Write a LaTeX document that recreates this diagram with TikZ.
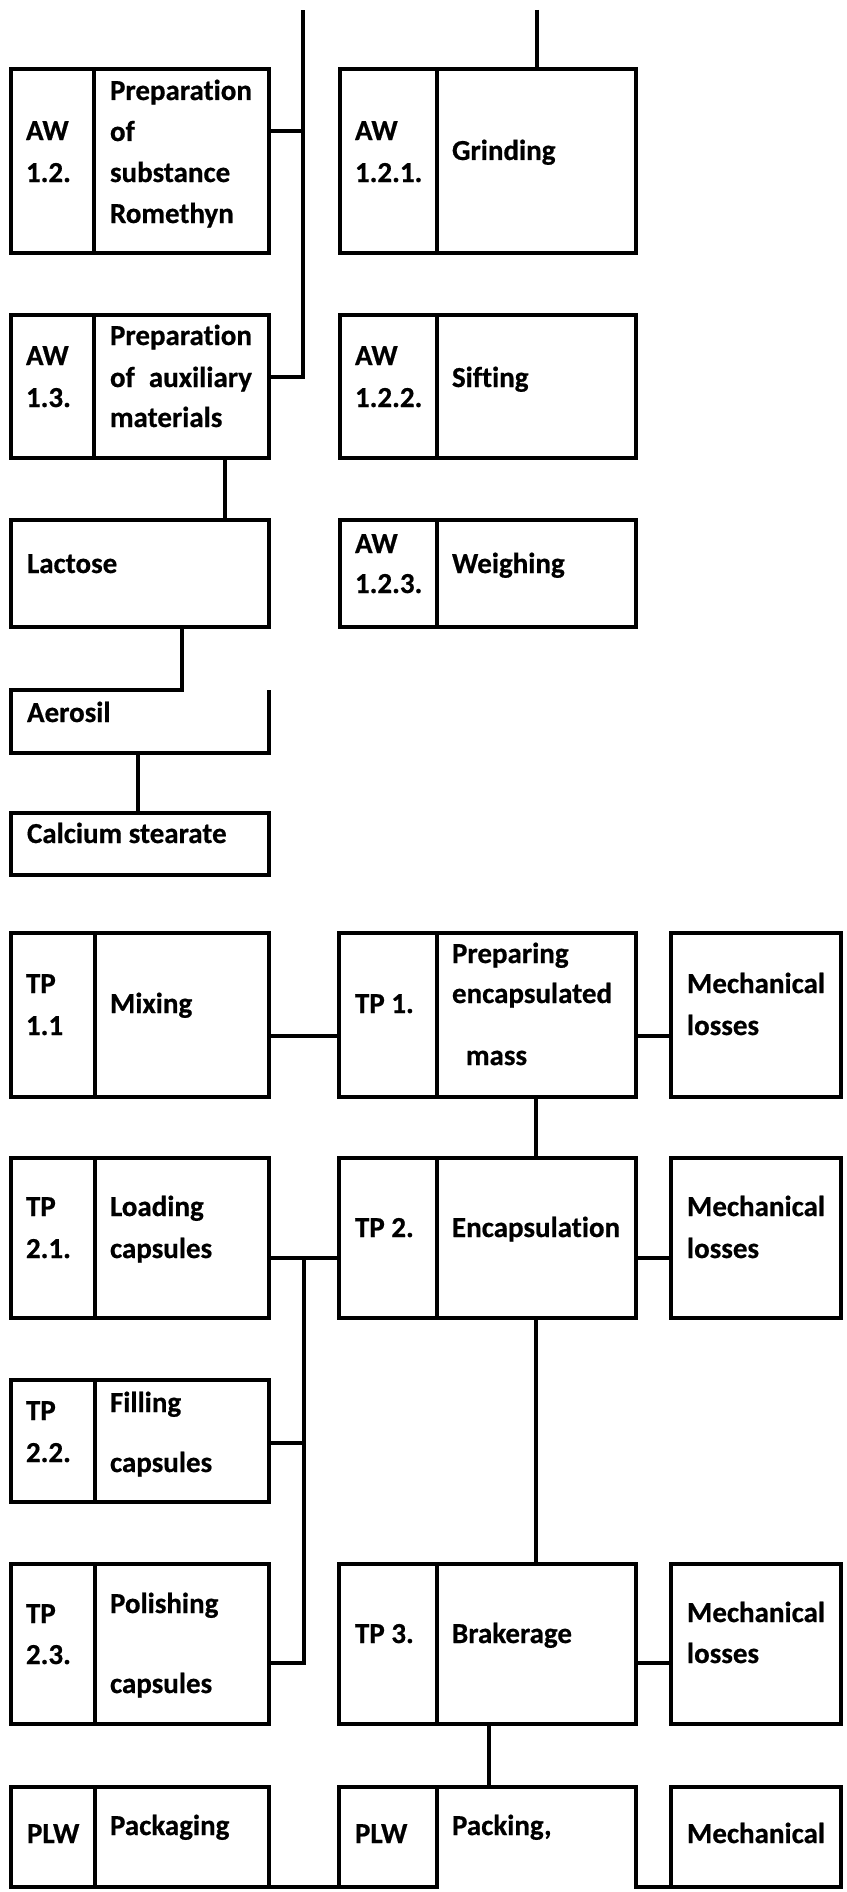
\documentclass[tikz,border=0pt]{standalone}
\usepackage{fontspec}
\setmainfont{Carlito}[Ligatures=NoCommon,BoldFeatures={FakeBold=0.6}]
\tikzset{
  cell/.style={draw, line width=3.3pt, rectangle, inner sep=0pt, outer sep=0pt, anchor=north west},
  wire/.style={line width=3.3pt},
  lbl/.style={anchor=base west, inner sep=0pt, outer sep=0pt, font=\fontsize{29}{41}\selectfont\bfseries},
  lblr/.style={lbl, anchor=base east},
}
\newcommand\cellat[6][]{\node[cell,#1,minimum width={(#5-#3)*1pt},minimum height={(#6-#4)*1pt}] (#2) at (#3,#4) {};}
\newcommand\txt[4]{\node[lbl] (#1) at (#2,#3) {#4};}
\begin{document}
\begin{tikzpicture}[x=1pt,y=-1pt]
\useasboundingbox (0,0) rectangle (846,1892);
% ---------- upper part ----------
\cellat{aw12a}{11}{69}{94}{253}
\cellat{aw12b}{94}{69}{269}{253}
\cellat{aw13a}{11}{315}{94}{458}
\cellat{aw13b}{94}{315}{269}{458}
\cellat{aw121a}{340}{69}{437}{253}
\cellat{aw121b}{437}{69}{636}{253}
\cellat{aw122a}{340}{315}{437}{458}
\cellat{aw122b}{437}{315}{636}{458}
\cellat{aw123a}{340}{520}{437}{627}
\cellat{aw123b}{437}{520}{636}{627}
\cellat{lac}{11}{520}{269}{627}
\cellat[draw=none]{aer}{11}{690}{269}{753}
\cellat{cal}{11}{813}{269}{875}

\coordinate (top1) at (303,10);
\coordinate (j12) at (303,131);
\coordinate (j13) at (303,377);
\coordinate (top2) at (537,10);
\coordinate (xa) at (225,0);
\coordinate (xb) at (182,690);
\coordinate (xc) at (138,0);

\draw[wire] (aw13b.east |- j13) -- (j13) -- (top1);
\draw[wire] (aw12b.east |- j12) -- (j12);
\draw[wire] (top2) -- (top2 |- aw121b.north);
\draw[wire] (aw13b.south -| xa) -- (lac.north -| xa);
\draw[wire] (lac.south -| xb) -- (xb) -- (aer.north west) -- (aer.south west) -- (aer.south east) -- (aer.north east);
\draw[wire] (aer.south -| xc) -- (cal.north -| xc);

\txt{a1}{26}{140}{AW}
\txt{a2}{26}{182}{1.2.}
\txt{a3}{110}{100}{Preparation}
\txt{a4}{110}{141}{of}
\txt{a5}{110}{182}{substance}
\txt{a6}{110}{223}{Romethyn}
\txt{b1}{26}{365}{AW}
\txt{b2}{26}{407}{1.3.}
\txt{b3}{110}{345}{Preparation}
\txt{b4}{110}{387}{of}
\node[lblr] (b5) at (b3.base east |- 0,387) {auxiliary};
\txt{b6}{110}{427}{materials}
\txt{c1}{355}{140}{AW}
\txt{c2}{355}{182}{1.2.1.}
\txt{c3}{452}{160}{Grinding}
\txt{d1}{355}{365}{AW}
\txt{d2}{355}{407}{1.2.2.}
\txt{d3}{452}{387}{Sifting}
\txt{e1}{355}{553}{AW}
\txt{e2}{355}{593}{1.2.3.}
\txt{e3}{452}{573}{Weighing}
\txt{f1}{27}{573}{Lactose}
\txt{f2}{27}{722}{Aerosil}
\txt{f3}{27}{843}{Calcium stearate}

% ---------- lower part ----------
\cellat{tp11a}{11}{933}{95}{1097}
\cellat{tp11b}{95}{933}{269}{1097}
\cellat{tp1a}{339}{933}{437}{1097}
\cellat{tp1b}{437}{933}{636}{1097}
\cellat{m1}{671}{933}{841}{1097}
\cellat{tp21a}{11}{1158}{95}{1318}
\cellat{tp21b}{95}{1158}{269}{1318}
\cellat{tp2a}{339}{1158}{437}{1318}
\cellat{tp2b}{437}{1158}{636}{1318}
\cellat{m2}{671}{1158}{841}{1318}
\cellat{tp22a}{11}{1380}{95}{1502}
\cellat{tp22b}{95}{1380}{269}{1502}
\cellat{tp23a}{11}{1564}{95}{1724}
\cellat{tp23b}{95}{1564}{269}{1724}
\cellat{tp3a}{339}{1564}{437}{1724}
\cellat{tp3b}{437}{1564}{636}{1724}
\cellat{m3}{671}{1564}{841}{1724}
\cellat{plw1a}{11}{1787}{95}{1887}
\cellat{plw1b}{95}{1787}{269}{1887}
\cellat{plw2a}{339}{1787}{437}{1887}
\cellat[draw=none]{plw2b}{437}{1787}{636}{1887}
\cellat{m4}{671}{1787}{841}{1887}

\coordinate (r1) at (0,1036);
\coordinate (xm) at (536,0);
\coordinate (jb) at (304,1258);
\coordinate (jd) at (304,1443);
\coordinate (jc) at (304,1663);
\coordinate (xp) at (489,0);

\draw[wire] (tp11b.east |- r1) -- (tp1a.west |- r1);
\draw[wire] (tp1b.east |- r1) -- (m1.west |- r1);
\draw[wire] (tp1b.south -| xm) -- (tp2b.north -| xm);
\draw[wire] (tp2b.south -| xm) -- (tp3b.north -| xm);
\draw[wire] (tp21b.east |- jb) -- (tp2a.west |- jb);
\draw[wire] (tp23b.east |- jc) -- (jc) -- (jb);
\draw[wire] (tp22b.east |- jd) -- (jd);
\draw[wire] (tp2b.east |- jb) -- (m2.west |- jb);
\draw[wire] (tp3b.east |- jc) -- (m3.west |- jc);
\draw[wire] (tp3b.south -| xp) -- (plw2b.north -| xp);
\draw[wire] (plw1b.south east) -- (plw2a.south west);
\draw[wire] (plw2b.north west) -- (plw2b.north east) -- (plw2b.south east) -- (m4.south west);

\txt{g1}{26}{993}{TP}
\txt{g2}{26}{1035}{1.1}
\txt{g3}{110}{1013}{Mixing}
\txt{h1}{355}{1013}{TP 1.}
\txt{h2}{452}{963}{Preparing}
\txt{h3}{452}{1003}{encapsulated}
\txt{h4}{466}{1065}{mass}
\txt{i1}{687}{993}{Mechanical}
\txt{i2}{687}{1035}{losses}
\txt{k1}{26}{1216}{TP}
\txt{k2}{26}{1258}{2.1.}
\txt{k3}{110}{1216}{Loading}
\txt{k4}{110}{1258}{capsules}
\txt{l1}{355}{1237}{TP 2.}
\txt{l2}{452}{1237}{Encapsulation}
\txt{n1}{687}{1216}{Mechanical}
\txt{n2}{687}{1258}{losses}
\txt{o1}{26}{1420}{TP}
\txt{o2}{26}{1462}{2.2.}
\txt{o3}{110}{1412}{Filling}
\txt{o4}{110}{1472}{capsules}
\txt{p1}{26}{1623}{TP}
\txt{p2}{26}{1664}{2.3.}
\txt{p3}{110}{1613}{Polishing}
\txt{p4}{110}{1693}{capsules}
\txt{q1}{355}{1643}{TP 3.}
\txt{q2}{452}{1643}{Brakerage}
\txt{s1}{687}{1622}{Mechanical}
\txt{s2}{687}{1663}{losses}
\txt{u1}{27}{1843}{PLW}
\txt{u2}{110}{1835}{Packaging}
\txt{v1}{355}{1843}{PLW}
\txt{v2}{452}{1835}{Packing,}
\txt{w1}{687}{1843}{Mechanical}
\end{tikzpicture}
\end{document}
